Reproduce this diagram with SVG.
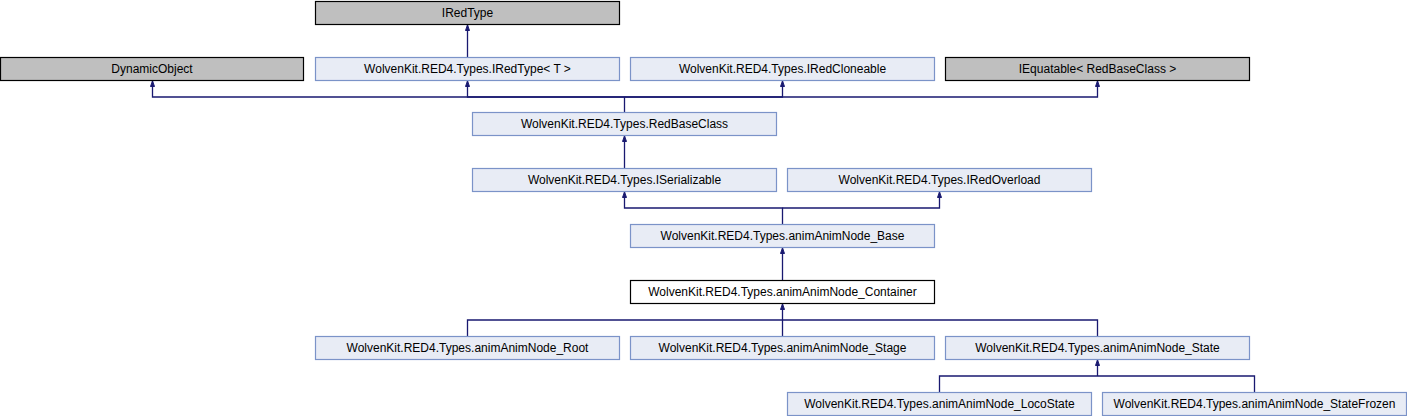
<svg xmlns="http://www.w3.org/2000/svg" width="1407" height="416" viewBox="0 0 1407 416">
<defs>
<marker id="arr" markerWidth="7" markerHeight="6" refX="6" refY="3" orient="auto" markerUnits="userSpaceOnUse" viewBox="0 0 7 6">
<path d="M0.5,1 L6,3 L0.5,5 Z" fill="#191970" stroke="#191970" stroke-width="1"/>
</marker>
</defs>
<style>
rect.n{fill:#e8ecf5;stroke:#7b93c8;stroke-width:1.2}
rect.g{fill:#bfbfbf;stroke:#000;stroke-width:1.2}
rect.b{fill:#fff;stroke:#000;stroke-width:1.2}
text{font-family:"Liberation Sans",Arial,sans-serif;font-size:12px;fill:#000;text-anchor:middle}
.e{fill:none;stroke:#191970;stroke-width:1.3}
</style>
<g id="connectors">
<path class="e" d="M467.5,57 V25" marker-end="url(#arr)"/>
<path class="e" d="M624.5,112 V97 H152.5 V81" marker-end="url(#arr)"/>
<path class="e" d="M624.5,97 H467.5 V81" marker-end="url(#arr)"/>
<path class="e" d="M624.5,97 H782.5 V81" marker-end="url(#arr)"/>
<path class="e" d="M624.5,97 H1097.5 V81" marker-end="url(#arr)"/>
<path class="e" d="M624.5,168 V136" marker-end="url(#arr)"/>
<path class="e" d="M782.5,224 V208 H624.5 V192" marker-end="url(#arr)"/>
<path class="e" d="M782.5,208 H939.5 V192" marker-end="url(#arr)"/>
<path class="e" d="M782.5,280 V248" marker-end="url(#arr)"/>
<path class="e" d="M782.5,336 V304" marker-end="url(#arr)"/>
<path class="e" d="M467.5,336 V320 H1097.5 V336"/>
<path class="e" d="M939.5,392 V376 H1254.5 V392"/>
<path class="e" d="M1097.5,376 V360" marker-end="url(#arr)"/>
</g>
<g id="IRedType"><rect class="g" x="315.5" y="1.5" width="304" height="23"/><text x="467.5" y="17">IRedType</text></g>
<g id="DynamicObject"><rect class="g" x="0.5" y="57.5" width="303" height="23"/><text x="152" y="73">DynamicObject</text></g>
<g id="IRedTypeT"><rect class="n" x="315.5" y="57.5" width="304" height="23"/><text x="467.5" y="73">WolvenKit.RED4.Types.IRedType&lt; T &gt;</text></g>
<g id="IRedCloneable"><rect class="n" x="630.5" y="57.5" width="304" height="23"/><text x="782.5" y="73">WolvenKit.RED4.Types.IRedCloneable</text></g>
<g id="IEquatable"><rect class="g" x="945.5" y="57.5" width="304" height="23"/><text x="1097.5" y="73">IEquatable&lt; RedBaseClass &gt;</text></g>
<g id="RedBaseClass"><rect class="n" x="472.5" y="112.5" width="304" height="23"/><text x="624.5" y="128">WolvenKit.RED4.Types.RedBaseClass</text></g>
<g id="ISerializable"><rect class="n" x="472.5" y="168.5" width="304" height="23"/><text x="624.5" y="184">WolvenKit.RED4.Types.ISerializable</text></g>
<g id="IRedOverload"><rect class="n" x="787.5" y="168.5" width="304" height="23"/><text x="939.5" y="184">WolvenKit.RED4.Types.IRedOverload</text></g>
<g id="AnimNodeBase"><rect class="n" x="630.5" y="224.5" width="304" height="23"/><text x="782.5" y="240">WolvenKit.RED4.Types.animAnimNode_Base</text></g>
<g id="AnimNodeContainer"><rect class="b" x="630.5" y="280.5" width="304" height="23"/><text x="782.5" y="296">WolvenKit.RED4.Types.animAnimNode_Container</text></g>
<g id="AnimNodeRoot"><rect class="n" x="315.5" y="336.5" width="304" height="23"/><text x="467.5" y="352">WolvenKit.RED4.Types.animAnimNode_Root</text></g>
<g id="AnimNodeStage"><rect class="n" x="630.5" y="336.5" width="304" height="23"/><text x="782.5" y="352">WolvenKit.RED4.Types.animAnimNode_Stage</text></g>
<g id="AnimNodeState"><rect class="n" x="945.5" y="336.5" width="304" height="23"/><text x="1097.5" y="352">WolvenKit.RED4.Types.animAnimNode_State</text></g>
<g id="AnimNodeLocoState"><rect class="n" x="787.5" y="392.5" width="304" height="23"/><text x="939.5" y="408">WolvenKit.RED4.Types.animAnimNode_LocoState</text></g>
<g id="AnimNodeStateFrozen"><rect class="n" x="1102.5" y="392.5" width="304" height="23"/><text x="1254.5" y="408">WolvenKit.RED4.Types.animAnimNode_StateFrozen</text></g>
</svg>
